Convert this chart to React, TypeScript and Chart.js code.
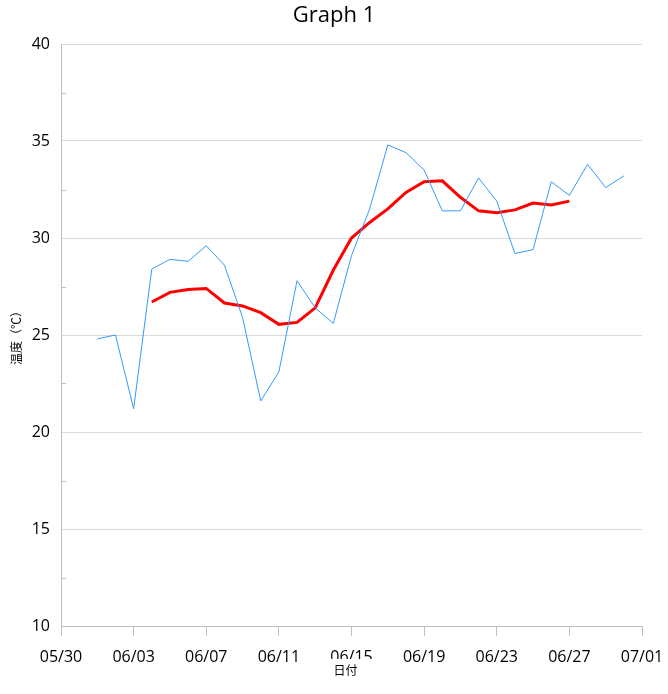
import { useEffect, useRef } from "react";
import { Chart, registerables } from "chart.js";

Chart.register(...registerables);

// Daily temperatures (blue line)
const dates = [
  "06/01", "06/02", "06/03", "06/04", "06/05", "06/06", "06/07", "06/08", "06/09", "06/10",
  "06/11", "06/12", "06/13", "06/14", "06/15", "06/16", "06/17", "06/18", "06/19", "06/20",
  "06/21", "06/22", "06/23", "06/24", "06/25", "06/26", "06/27", "06/28", "06/29", "06/30",
];
const temps = [
  24.8, 25.0, 21.2, 28.4, 28.9, 28.8, 29.6, 28.6, 25.9, 21.6,
  23.1, 27.8, 26.4, 25.6, 29.1, 31.5, 34.8, 34.4, 33.5, 31.4,
  31.4, 33.1, 31.9, 29.2, 29.4, 32.9, 32.2, 33.8, 32.6, 33.2,
];

// Smoothed temperatures (red line), 06/04 .. 06/27
const avgDates = dates.slice(3, 27);
const avgTemps = [
  26.7, 27.2, 27.35, 27.4, 26.65, 26.5, 26.15, 25.55, 25.65, 26.4,
  28.35, 30.0, 30.8, 31.5, 32.35, 32.9, 32.95, 32.1, 31.4, 31.3,
  31.45, 31.8, 31.7, 31.9,
];

const axisStart = "05/30";
const axisEnd = "07/01";
const xStepDays = 4;
const yMin = 10;
const yMax = 40;
const yStep = 5;
const yMinorTicks = [12.5, 17.5, 22.5, 27.5, 32.5, 37.5];

const chartTitle = "Graph 1";
const xTitle = "日付";
const yTitle = "温度（℃）";

const FONT = "'Open Sans', 'Noto Sans', sans-serif";
const CJK = "'Noto Sans CJK JP', 'Noto Sans', sans-serif";

const YEAR = 2020;
function toUTC(s: string): number {
  const [m, d] = s.split("/").map(Number);
  return Date.UTC(YEAR, m - 1, d);
}
const baseUTC = toUTC(axisStart);
function dayOffset(s: string): number {
  return Math.round((toUTC(s) - baseUTC) / 86400000);
}
function offsetLabel(n: number): string {
  const t = new Date(baseUTC + n * 86400000);
  return (
    String(t.getUTCMonth() + 1).padStart(2, "0") +
    "/" +
    String(t.getUTCDate()).padStart(2, "0")
  );
}

const minorTickPlugin = {
  id: "minorTicks",
  beforeDatasetsDraw(chart: any) {
    const y = chart.scales.y;
    const ctx = chart.ctx;
    ctx.save();
    ctx.strokeStyle = "#bfbfbf";
    ctx.lineWidth = 1;
    yMinorTicks.forEach((v) => {
      const py = Math.round(y.getPixelForValue(v)) + 0.5;
      ctx.beginPath();
      ctx.moveTo(y.right, py);
      ctx.lineTo(y.right + 5, py);
      ctx.stroke();
    });
    ctx.restore();
  },
};

// x-axis title drawn in a small opaque box (overlapping the middle tick label)
const xTitlePlugin = {
  id: "xTitleBox",
  afterDraw(chart: any) {
    const x = chart.scales.x;
    const ctx = chart.ctx;
    const cx = (x.left + x.right) / 2 - 6;
    const top = x.top + 33;
    ctx.save();
    ctx.fillStyle = "#fff";
    ctx.fillRect(cx - 24, top, 56, 24);
    ctx.fillStyle = "#000";
    ctx.font = "12px " + CJK;
    ctx.textAlign = "center";
    ctx.textBaseline = "middle";
    ctx.fillText(xTitle, cx, x.top + 44);
    ctx.restore();
  },
};

export default function App() {
  const ref = useRef<HTMLCanvasElement | null>(null);

  useEffect(() => {
    if (!ref.current) return;
    const chart = new Chart(ref.current, {
      type: "line",
      data: {
        datasets: [
          {
            label: "temp",
            data: dates.map((d, i) => ({ x: dayOffset(d), y: temps[i] })),
            borderColor: "rgb(51,153,255)",
            borderWidth: 1,
            pointRadius: 0,
            tension: 0,
            fill: false,
          },
          {
            label: "avg",
            data: avgDates.map((d, i) => ({ x: dayOffset(d), y: avgTemps[i] })),
            borderColor: "rgb(255,0,0)",
            borderWidth: 3,
            pointRadius: 0,
            tension: 0,
            fill: false,
          },
        ],
      },
      options: {
        animation: false,
        responsive: false,
        devicePixelRatio: 1,
        layout: { padding: 0 },
        plugins: {
          legend: { display: false },
          tooltip: { enabled: false },
          title: {
            display: true,
            text: chartTitle,
            color: "#000",
            font: { family: FONT, size: 22, weight: "normal", lineHeight: 1.2 },
            padding: { top: 3, bottom: 14.6 },
          },
        },
        scales: {
          x: {
            type: "linear",
            min: 0,
            max: dayOffset(axisEnd),
            afterFit: (s: any) => {
              s.height = 68;
              s.paddingLeft = 0;
              s.paddingRight = 26;
            },
            ticks: {
              stepSize: xStepDays,
              autoSkip: false,
              maxRotation: 0,
              padding: 12,
              color: "#000",
              font: { family: FONT, size: 16, lineHeight: 1.2 },
              callback: (v: any) => offsetLabel(Number(v)),
            },
            grid: {
              drawOnChartArea: false,
              drawTicks: true,
              tickLength: 10,
              color: "#bfbfbf",
            },
            border: { color: "#bfbfbf" },
            title: { display: false },
          },
          y: {
            min: yMin,
            max: yMax,
            afterFit: (s: any) => {
              s.width = 61;
            },
            ticks: {
              stepSize: yStep,
              padding: 11,
              color: "#000",
              font: { family: FONT, size: 16, lineHeight: 1.2 },
            },
            grid: { color: "#d9d9d9", drawTicks: false },
            border: { color: "#bfbfbf" },
            title: {
              display: true,
              text: yTitle,
              color: "#000",
              font: { family: CJK, size: 12, lineHeight: 1.2 },
              padding: { top: 9, bottom: 0 },
            },
          },
        },
      },
      plugins: [minorTickPlugin, xTitlePlugin],
    } as any);
    return () => chart.destroy();
  }, []);

  return (
    <div style={{ position: "fixed", left: 0, top: 0, width: 668, height: 694, background: "#fff" }}>
      <canvas ref={ref} width={668} height={694} style={{ width: 668, height: 694, display: "block" }} />
    </div>
  );
}
